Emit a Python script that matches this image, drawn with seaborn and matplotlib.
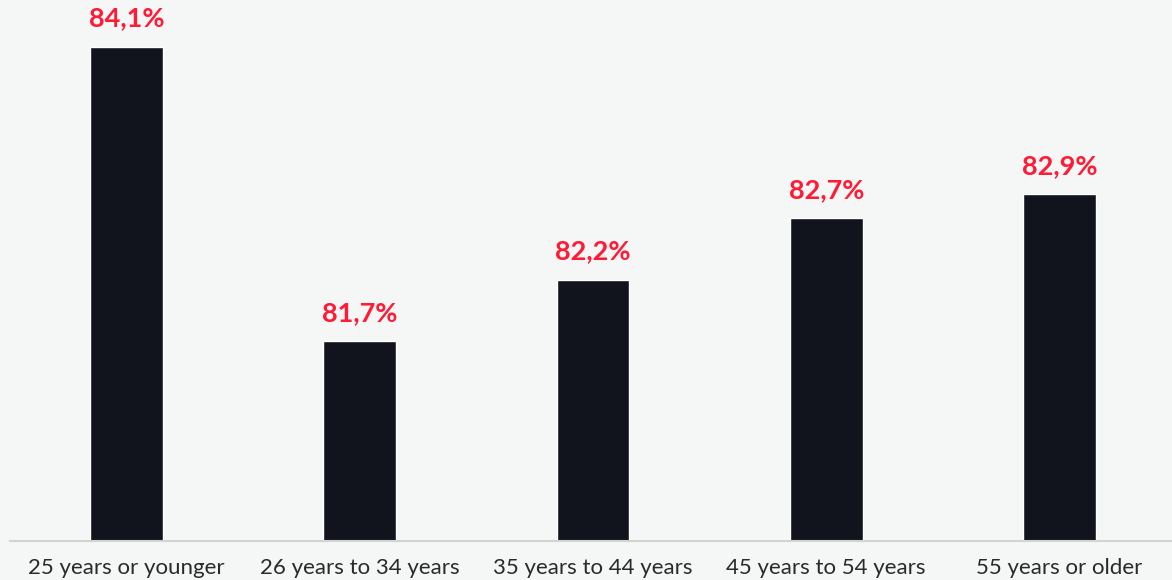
import matplotlib
matplotlib.use("Agg")
import matplotlib.pyplot as plt
import seaborn as sns
import pandas as pd

categories = ["25 years or younger", "26 years to 34 years", "35 years to 44 years",
              "45 years to 54 years", "55 years or older"]
values = [84.1, 81.7, 82.2, 82.7, 82.9]
value_labels = ["84,1%", "81,7%", "82,2%", "82,7%", "82,9%"]

bg = "#F5F6F6"
bar_color = "#11141C"
label_color = "#FF1A35"

sns.set_theme(style="white")
plt.rcParams["font.family"] = ["Lato", "DejaVu Sans"]

df = pd.DataFrame({"group": categories, "share": values})

fig = plt.figure(figsize=(11.72, 5.80), dpi=100, facecolor=bg)
W, H = 1172, 580
ax = fig.add_axes([10 / W, 39 / H, 1166 / W, 541 / H])
ax.set_facecolor(bg)

sns.barplot(data=df, x="group", y="share", color=bar_color, width=0.313,
            saturation=1, ax=ax)

ax.set_ylim(80.067, 84.48)
ax.set_xlim(-0.5, 4.5)

for i, (v, t) in enumerate(zip(values, value_labels)):
    ax.annotate(t, (i, v), xytext=(0, 16), textcoords="offset pixels",
                ha="center", va="bottom", color=label_color,
                fontsize=19.5, fontweight="bold", family=["Lato", "DejaVu Sans"])

ax.set_xlabel("")
ax.set_ylabel("")
ax.set_yticks([])
ax.tick_params(axis="x", length=0, pad=12, labelsize=16, labelcolor="#2A2A2A")
for lab in ax.get_xticklabels():
    lab.set_fontweight("normal")

for side in ["top", "right", "left"]:
    ax.spines[side].set_visible(False)
ax.spines["bottom"].set_color("#D2D4D4")
ax.spines["bottom"].set_linewidth(1.5)

fig.savefig("out.png", dpi=100, facecolor=bg)
